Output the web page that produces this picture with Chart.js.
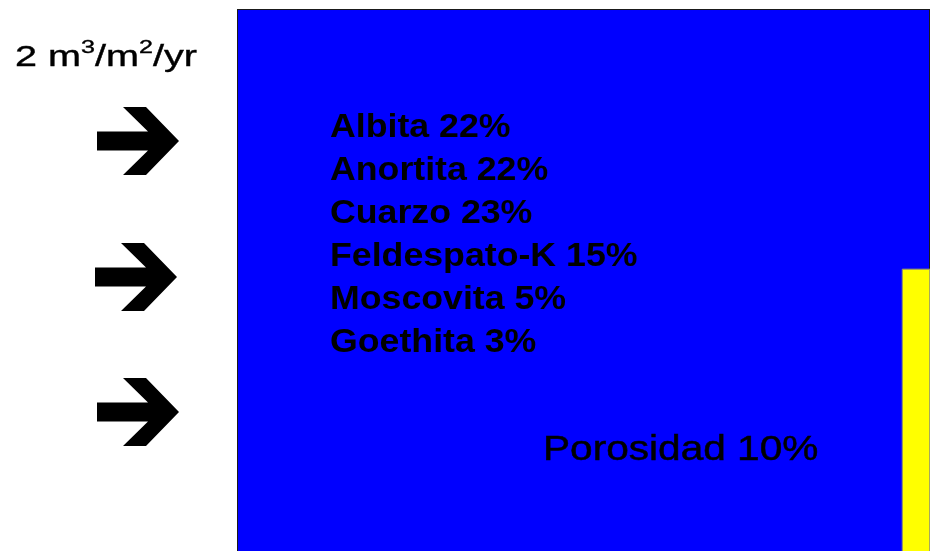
<!DOCTYPE html>
<html>
<head>
<meta charset="utf-8">
<script src="https://cdn.jsdelivr.net/npm/chart.js@4"></script>
<style>
    body { margin: 0; background: #fff; overflow: hidden; }
    #wrap { position: relative; width: 930px; height: 551px; }
    #chart { position: absolute; left: 0; top: 0; }
    .txt { position: absolute; font-family: "Liberation Sans", Arial, sans-serif; color: #000; white-space: nowrap; transform-origin: 0 0; }
    #flux { left: 15px; top: 39px; font-size: 30px; line-height: 34px; transform: scaleX(1.32); -webkit-text-stroke: 0.4px #000; }
    #flux .sup { font-size: 19px; position: relative; top: -13px; }
    #minerals { left: 330px; top: 104px; font-size: 34px; line-height: 43px; font-weight: bold; transform: scaleX(1.05); }
    #porosity { left: 543px; top: 428px; font-size: 35px; line-height: 40px; transform: scaleX(1.16); -webkit-text-stroke: 0.5px #000; }
    #arrows { position: absolute; left: 0; top: 0; }
</style>
</head>
<body>
<div id="wrap">
    <canvas id="chart" width="930" height="551"></canvas>
    <svg id="arrows" width="230" height="551"></svg>
    <div class="txt" id="flux"></div>
    <div class="txt" id="minerals"></div>
    <div class="txt" id="porosity"></div>
</div>
<script>
// Domain of the rock column (distance %, depth %)
const domainX = [0, 100];
const domainY = [0, 100];

// Reaction front (yellow) position and height
const frontX = [96, 100];
const frontHeight = 52;

// Mineral composition
const minerals = ['Albita', 'Anortita', 'Cuarzo', 'Feldespato-K', 'Moscovita', 'Goethita'];
const mineralPct = [22, 22, 23, 15, 5, 3];
const porosityPct = 10;

// Inflow rate and arrow rows (px rows of the arrows on the left)
const inflowRate = 2;
const arrowRows = [141, 277, 412];

// Text
document.getElementById('flux').innerHTML =
    inflowRate + ' m<span class="sup">3</span>/m<span class="sup">2</span>/yr';
document.getElementById('minerals').innerHTML =
    minerals.map((m, i) => `<div>${m} ${mineralPct[i]}%</div>`).join('');
document.getElementById('porosity').textContent = `Porosidad ${porosityPct}%`;

// Arrows
const svg = document.getElementById('arrows');
svg.innerHTML = arrowRows.map((cy, i) => {
    const x0 = i === 1 ? 95 : 97;
    const p = [
        [0, -9.5], [51, -9.5], [26, -34], [49, -34], [82, 0],
        [49, 34], [26, 34], [51, 9.5], [0, 9.5]
    ].map(([dx, dy]) => `${x0 + dx},${cy + dy}`).join(' ');
    return `<polygon points="${p}" fill="#000"/>`;
}).join('');

// Chart
const ctx = document.getElementById('chart').getContext('2d');
new Chart(ctx, {
    type: 'scatter',
    data: {
        datasets: [
            {
                label: 'Roca',
                order: 2,
                data: [
                    {x: domainX[0], y: domainY[0]},
                    {x: domainX[0], y: domainY[1]},
                    {x: domainX[1], y: domainY[1]},
                    {x: domainX[1], y: domainY[0]}
                ],
                showLine: true,
                fill: 'origin',
                backgroundColor: '#0000ff',
                borderColor: '#1a1a1a',
                borderWidth: 2,
                pointRadius: 0,
                tension: 0
            },
            {
                label: 'Frente',
                order: 1,
                data: [
                    {x: frontX[0], y: domainY[0]},
                    {x: frontX[0], y: frontHeight},
                    {x: frontX[1], y: frontHeight},
                    {x: frontX[1], y: domainY[0]}
                ],
                showLine: true,
                fill: 'origin',
                backgroundColor: '#ffff00',
                borderColor: '#9a9a6a',
                borderWidth: 1,
                pointRadius: 0,
                tension: 0
            }
        ]
    },
    options: {
        responsive: false,
        animation: false,
        devicePixelRatio: 1,
        layout: { padding: { left: 237, top: 9, right: 0, bottom: 0 } },
        plugins: { legend: { display: false }, tooltip: { enabled: false } },
        scales: {
            x: { type: 'linear', min: domainX[0], max: domainX[1], display: false },
            y: { type: 'linear', min: domainY[0], max: domainY[1], display: false }
        }
    }
});
</script>
</body>
</html>
